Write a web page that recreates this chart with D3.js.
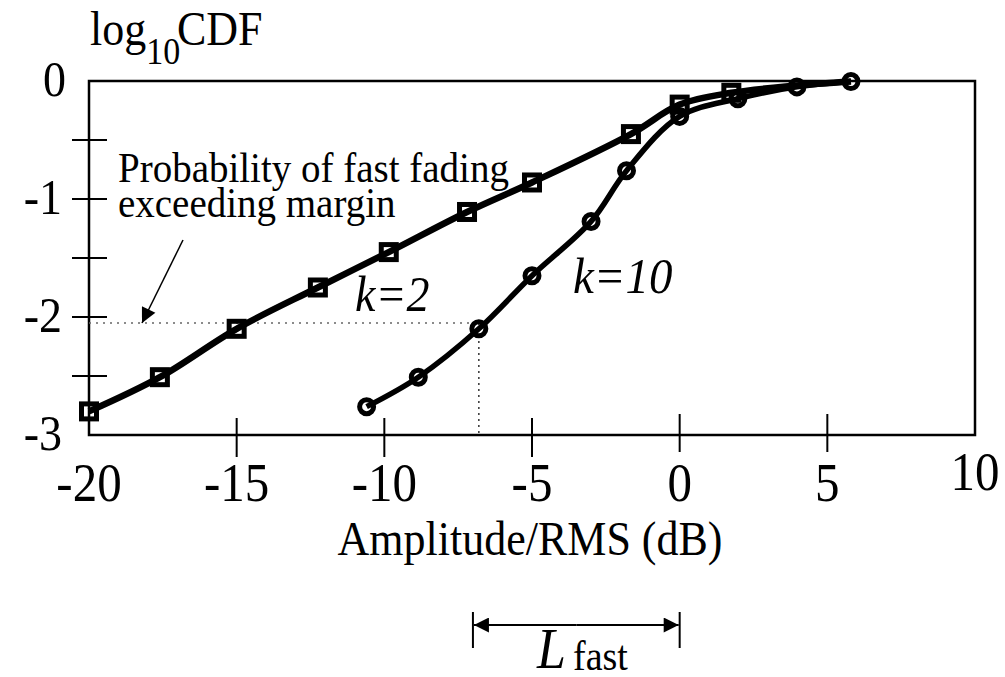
<!DOCTYPE html>
<html>
<head>
<meta charset="utf-8">
<script src="https://cdn.jsdelivr.net/npm/d3@7"></script>
<style>
  body { margin: 0; background: #fff; }
  svg text { font-family: "Liberation Serif", "Times New Roman", serif; fill: #000; }
</style>
</head>
<body>
<div class="chart"></div>
<script>
// data (x in dB, y in log10 CDF)
let k2X = [-20, -17.6, -15, -12.25, -9.85, -7.2, -5, -1.65, 0, 1.75, 3.9, 5.8];
let k2Y = [-2.8, -2.51, -2.1, -1.75, -1.45, -1.11, -0.86, -0.45, -0.2, -0.1, -0.04, -0.005];
let k2Marked = 10; // squares only on the first points, the rest hide under k=10
let k10X = [-10.6, -8.85, -6.8, -5, -3, -1.8, 0, 1.97, 3.97, 5.8];
let k10Y = [-2.76, -2.51, -2.1, -1.65, -1.19, -0.76, -0.3, -0.15, -0.05, -0.005];
let xTicks = [-20, -15, -10, -5, 0, 5, 10];
let yTicks = [0, -1, -2, -3];
let yMinor = [-0.5, -1, -1.5, -2, -2.5];
let marginX = -6.8, marginY = -2.05; // dotted lines
let lFastFrom = -7, lFastTo = 0;

let width = 1005, height = 677;
let plotLeft = 89, plotRight = 975, plotTop = 81, plotBottom = 435;
let stretch = 1.1; // the scan is a bit taller than wide

let svg = d3.select('.chart').append('svg')
    .attr('width', width)
    .attr('height', height);

let x = d3.scaleLinear().domain([-20, 10]).range([plotLeft, plotRight]);
let y = d3.scaleLinear().domain([-3, 0]).range([plotBottom, plotTop]);

// text placed at (px, py) and stretched a little vertically
function label(px, py, size) {
    return svg.append('text')
        .attr('transform', `translate(${px},${py}) scale(1,${stretch})`)
        .style('font-size', size + 'px');
}

// frame
svg.append('rect')
    .attr('x', plotLeft).attr('y', plotTop)
    .attr('width', plotRight - plotLeft).attr('height', plotBottom - plotTop)
    .attr('fill', 'none').attr('stroke', '#000').attr('stroke-width', 2.5);

// y ticks crossing the axis
svg.selectAll('.ytick').data(yMinor).enter().append('line')
    .attr('x1', plotLeft - 17).attr('x2', plotLeft + 18)
    .attr('y1', d => y(d)).attr('y2', d => y(d))
    .attr('stroke', '#000').attr('stroke-width', 2);

// x ticks crossing the axis (not at the corners)
svg.selectAll('.xtick').data(xTicks.filter(d => d > -20 && d < 10)).enter().append('line')
    .attr('x1', d => x(d)).attr('x2', d => x(d))
    .attr('y1', d => d >= 0 ? plotBottom - 21 : plotBottom - 17)
    .attr('y2', d => d >= 0 ? plotBottom + 17 : plotBottom + 22)
    .attr('stroke', '#000').attr('stroke-width', 2);

// tick labels
yTicks.forEach(d => {
    label(d == 0 ? 66 : 62, y(d) + 15, 46)
        .attr('text-anchor', 'end')
        .text(d);
});
xTicks.forEach(d => {
    label(x(d), d == 10 ? 490 : 501, 49)
        .attr('text-anchor', 'middle')
        .text(d);
});

// axis titles
let yt = label(90, 45, 44);
yt.append('tspan').text('log');
yt.append('tspan').attr('dy', 17).style('font-size', '34px').text('10');
yt.append('tspan').attr('x', 87).attr('y', 0).text('CDF');

label(530, 555, 44)
    .attr('text-anchor', 'middle')
    .text('Amplitude/RMS (dB)');

// dotted guide lines
svg.append('line')
    .attr('x1', plotLeft).attr('x2', x(marginX))
    .attr('y1', y(marginY)).attr('y2', y(marginY))
    .attr('stroke', '#666').attr('stroke-width', 1.5).attr('stroke-dasharray', '2,5');
svg.append('line')
    .attr('x1', x(marginX)).attr('x2', x(marginX))
    .attr('y1', y(marginY)).attr('y2', plotBottom)
    .attr('stroke', '#333').attr('stroke-width', 1.5).attr('stroke-dasharray', '2,4');

// arrowhead marker
let defs = svg.append('defs');
defs.append('marker')
    .attr('id', 'head').attr('viewBox', '0 0 10 10')
    .attr('refX', 10).attr('refY', 5)
    .attr('markerWidth', 22).attr('markerHeight', 15)
    .attr('markerUnits', 'userSpaceOnUse')
    .attr('orient', 'auto')
    .append('path').attr('d', 'M0,0 L10,5 L0,10 Z').attr('fill', '#000');

// annotation
label(118, 182, 39).text('Probability of fast fading');
label(118, 217, 39).text('exceeding margin');
svg.append('line')
    .attr('x1', 183).attr('y1', 240)
    .attr('x2', 142).attr('y2', 323)
    .attr('stroke', '#000').attr('stroke-width', 1.5)
    .attr('marker-end', 'url(#head)');

// curves
let k2 = k2X.map((d, i) => ({ x: d, y: k2Y[i] }));
let k10 = k10X.map((d, i) => ({ x: d, y: k10Y[i] }));
let line = d3.line().x(d => x(d.x)).y(d => y(d.y)).curve(d3.curveCatmullRom);

svg.append('path').datum(k2).attr('d', line)
    .attr('fill', 'none').attr('stroke', '#000').attr('stroke-width', 6.5);
svg.append('path').datum(k10).attr('d', line)
    .attr('fill', 'none').attr('stroke', '#000').attr('stroke-width', 5.5);

svg.selectAll('.sq').data(k2.slice(0, k2Marked)).enter().append('rect')
    .attr('x', d => x(d.x) - 7.5).attr('y', d => y(d.y) - 7.5)
    .attr('width', 15).attr('height', 15)
    .attr('fill', 'none').attr('stroke', '#000').attr('stroke-width', 5);

svg.selectAll('.ci').data(k10).enter().append('circle')
    .attr('cx', d => x(d.x)).attr('cy', d => y(d.y))
    .attr('r', 7)
    .attr('fill', 'none').attr('stroke', '#000').attr('stroke-width', 5);

// series labels
label(355, 311, 46).style('font-style', 'italic').text('k=2');
label(573, 293, 47).style('font-style', 'italic').text('k=10');

// L_fast bracket
let bx1 = x(lFastFrom), bx2 = x(lFastTo);
svg.selectAll('.brk').data([bx1, bx2]).enter().append('line')
    .attr('x1', d => d).attr('x2', d => d)
    .attr('y1', 612).attr('y2', 648)
    .attr('stroke', '#000').attr('stroke-width', 2);
[bx1 + 1, bx2 - 1].forEach(end => {
    svg.append('line')
        .attr('x1', (bx1 + bx2) / 2).attr('x2', end)
        .attr('y1', 625).attr('y2', 625)
        .attr('stroke', '#000').attr('stroke-width', 2)
        .attr('marker-end', 'url(#head)');
});

label(537, 668, 52).style('font-style', 'italic').text('L');
label(573, 670, 38).text('fast');
</script>
</body>
</html>
